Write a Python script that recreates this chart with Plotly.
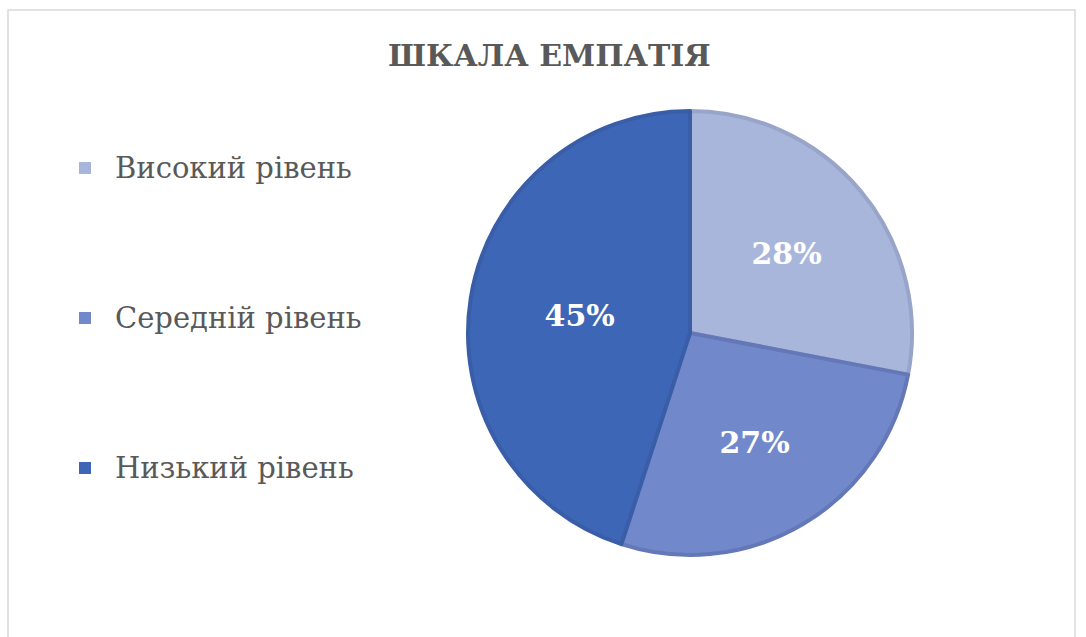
import plotly.graph_objects as go

labels = ["Високий рівень", "Середній рівень", "Низький рівень"]
values = [28, 27, 45]
colors = ["#A9B6DC", "#7189CB", "#3E66B6"]
edge_colors = ["#98A4C8", "#6478B8", "#3A5DA8"]

W, H = 1086, 637
cx, cy, r = 690, 333, 222
SERIF = "DejaVu Serif"

fig = go.Figure()
fig.add_trace(go.Pie(
    labels=labels,
    values=values,
    sort=False,
    direction="clockwise",
    rotation=0,
    marker=dict(colors=colors, line=dict(color=edge_colors, width=4)),
    texttemplate="%{percent:.0%}",
    textposition="inside",
    insidetextorientation="horizontal",
    textfont=dict(family=SERIF, size=30, color="white", weight="bold"),
    showlegend=False,
    hoverinfo="label+percent",
    domain=dict(x=[(cx - r) / W, (cx + r) / W], y=[1 - (cy + r) / H, 1 - (cy - r) / H]),
))

shapes = [dict(type="rect", xref="paper", yref="paper",
               x0=8 / W, x1=1075 / W, y0=-0.05, y1=1 - 10 / H,
               line=dict(color="#D9D9D9", width=1.5), fillcolor="rgba(0,0,0,0)")]
annotations = [dict(text="<b>ШКАЛА ЕМПАТІЯ</b>", x=549 / W, y=1 - 55 / H, xref="paper", yref="paper",
                    showarrow=False, xanchor="center", yanchor="middle",
                    font=dict(family=SERIF, size=30, color="#595959"))]
leg_y = [168, 318, 468]
for lab, col, yy in zip(labels, colors, leg_y):
    shapes.append(dict(type="rect", xref="paper", yref="paper",
                       x0=79 / W, x1=91 / W, y0=1 - (yy + 6) / H, y1=1 - (yy - 6) / H,
                       fillcolor=col, line=dict(width=0)))
    annotations.append(dict(text=lab, x=113 / W, y=1 - yy / H, xref="paper", yref="paper",
                            showarrow=False, xanchor="left", yanchor="middle",
                            font=dict(family=SERIF, size=29, color="#595959")))

fig.update_layout(
    width=W, height=H,
    margin=dict(l=0, r=0, t=0, b=0),
    paper_bgcolor="white",
    plot_bgcolor="white",
    shapes=shapes,
    annotations=annotations,
)
fig.write_html("out.html")
